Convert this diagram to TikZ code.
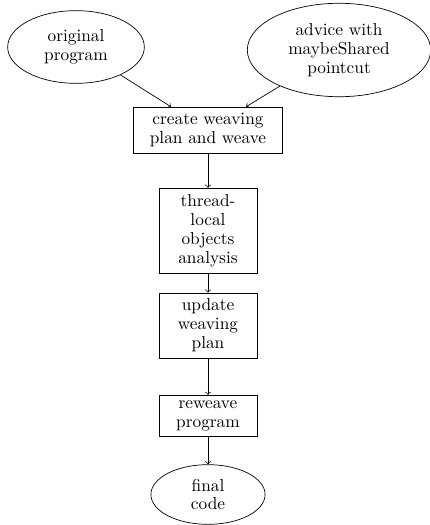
\documentclass[tikz,border=0pt]{standalone}
\usetikzlibrary{shapes.geometric}
\begin{document}
\begin{tikzpicture}[x=0.578pt,y=-0.578pt,
  every node/.style={align=center, inner sep=2pt, font=\fontsize{10}{10.9}\selectfont},
  ell/.style={draw, ellipse},
  boxn/.style={draw, rectangle},
  >=to]
\useasboundingbox (0,0) rectangle (430,525);
\node[ell, minimum width=79pt, minimum height=42pt] (orig) at (76,47) {original\\program};
\node[ell, minimum width=106pt, minimum height=54pt] (adv) at (339,50) {advice with\\maybeShared\\pointcut};
\node[boxn, minimum width=86.5pt, minimum height=26.5pt] (create) at (208,130) {create weaving\\plan and weave};
\node[boxn, minimum width=56.5pt, minimum height=49pt] (tl) at (208,230.5) {thread-\\local\\objects\\analysis};
\node[boxn, minimum width=56.5pt, minimum height=37.5pt] (upd) at (208,325.5) {update\\weaving\\plan};
\node[boxn, minimum width=56.5pt, minimum height=24pt] (rew) at (208,416) {reweave\\program};
\node[ell, minimum width=66pt, minimum height=34.5pt] (fin) at (208,494.5) {final\\code};
\draw[->] (orig) -- (create);
\draw[->] (adv) -- (create);
\draw[->] (create) -- (tl);
\draw[->] (tl) -- (upd);
\draw[->] (upd) -- (rew);
\draw[->] (rew) -- (fin);
\end{tikzpicture}
\end{document}
